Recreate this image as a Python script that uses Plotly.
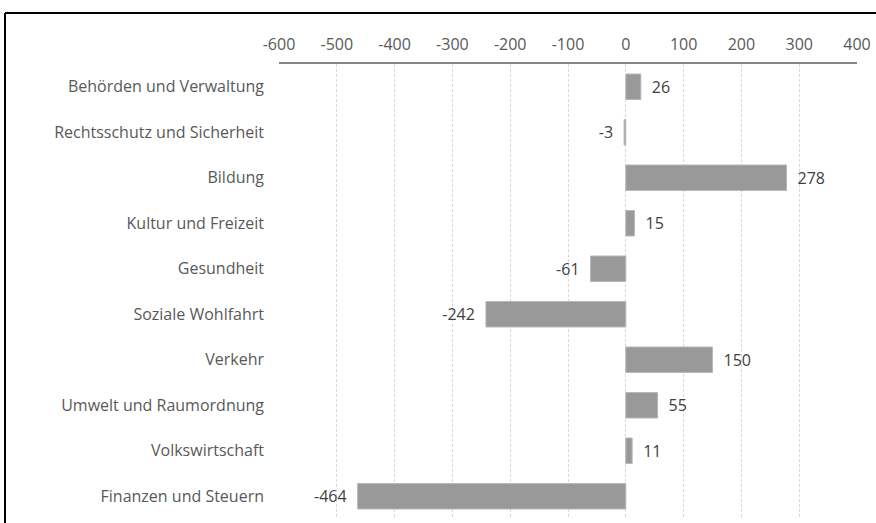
import plotly.graph_objects as go

# Net change by task area
categories = [
    "Behörden und Verwaltung",
    "Rechtsschutz und Sicherheit",
    "Bildung",
    "Kultur und Freizeit",
    "Gesundheit",
    "Soziale Wohlfahrt",
    "Verkehr",
    "Umwelt und Raumordnung",
    "Volkswirtschaft",
    "Finanzen und Steuern",
]
values = [26, -3, 278, 15, -61, -242, 150, 55, 11, -464]
tick_values = list(range(-600, 401, 100))

W, H = 876, 523
ML, MR, MT, MB = 279, 19, 64, 4
PW, PH = W - ML - MR, H - MT - MB

text_color = "#595959"
font_family = "Open Sans, Noto Sans, DejaVu Sans, sans-serif"
FS = 16

# value labels sit a little away from the bar ends
labels = [f"\u2002{v}" if v >= 0 else f"{v}\u2002" for v in values]

fig = go.Figure(
    go.Bar(
        x=values,
        y=categories,
        orientation="h",
        marker=dict(color="#999999", line=dict(color="#b8b8b8", width=1)),
        text=labels,
        textposition="outside",
        textfont=dict(color="#404040", size=FS, family=font_family),
        cliponaxis=False,
    )
)

# frame around the chart (left and top edges)
top = (H - MB - 13) / PH
left = (5 - ML) / PW
fig.add_shape(type="line", xref="paper", yref="paper",
              x0=left, x1=(W + 10 - ML) / PW, y0=top, y1=top,
              line=dict(color="black", width=2))
fig.add_shape(type="line", xref="paper", yref="paper",
              x0=left, x1=left, y0=top, y1=-0.1,
              line=dict(color="black", width=2))

fig.update_layout(
    width=W,
    height=H,
    margin=dict(l=ML, r=MR, t=MT, b=MB),
    paper_bgcolor="white",
    plot_bgcolor="white",
    showlegend=False,
    bargap=0.44,
    font=dict(family=font_family, color=text_color, size=FS),
    xaxis=dict(
        side="top",
        range=[-600, 400],
        tickvals=tick_values,
        ticktext=[str(v) for v in tick_values],
        showgrid=True,
        gridcolor="#d8d8d8",
        griddash="3px,2px",
        gridwidth=1,
        zeroline=False,
        showline=True,
        linecolor="#868686",
        linewidth=2,
        ticks="",
        ticklabelstandoff=6,
        tickfont=dict(size=FS, color=text_color),
    ),
    yaxis=dict(
        autorange="reversed",
        showgrid=False,
        zeroline=False,
        showline=False,
        ticks="",
        ticklabelstandoff=14,
        tickfont=dict(size=FS, color=text_color),
    ),
)

fig.write_html("out.html")
